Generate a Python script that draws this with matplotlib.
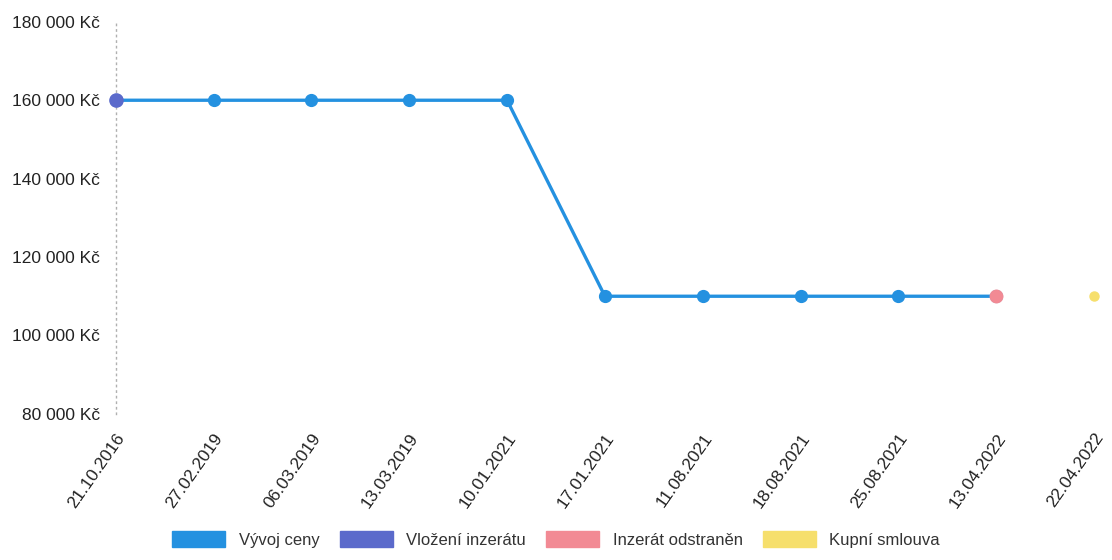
import matplotlib.pyplot as plt
from matplotlib.patches import Patch
from matplotlib.ticker import FuncFormatter

plt.rcParams['font.family'] = ['Liberation Sans', 'DejaVu Sans']

dates = ['21.10.2016', '27.02.2019', '06.03.2019', '13.03.2019', '10.01.2021',
         '17.01.2021', '11.08.2021', '18.08.2021', '25.08.2021', '13.04.2022',
         '22.04.2022']
prices = [160000, 160000, 160000, 160000, 160000,
          110000, 110000, 110000, 110000, 110000]

listed_idx, listed_price = 0, 160000
removed_idx, removed_price = 9, 110000
contract_idx, contract_price = 10, 110000

legend_labels = ['Vývoj ceny', 'Vložení inzerátu', 'Inzerát odstraněn', 'Kupní smlouva']
c_price = '#2491e0'
c_listed = '#5b6acb'
c_removed = '#f28a94'
c_contract = '#f6df6c'

fig = plt.figure(figsize=(11.12, 5.6), dpi=100)
ax = fig.add_axes([0.104, 0.261, 0.880, 0.700])

x = list(range(len(prices)))
ax.plot(x, prices, color=c_price, lw=2.4, marker='o', ms=8.5, zorder=2, clip_on=False)
ax.plot(listed_idx, listed_price, 'o', color=c_listed, ms=9.5, zorder=3, clip_on=False)
ax.plot(removed_idx, removed_price, 'o', color=c_removed, ms=9, zorder=3, clip_on=False)
ax.plot(contract_idx, contract_price, 'o', color=c_contract, ms=6.5, zorder=3, clip_on=False)

ax.set_xlim(0, len(dates) - 1)
ax.set_ylim(80000, 180000)
ax.set_yticks(range(80000, 180001, 20000))
ax.yaxis.set_major_formatter(FuncFormatter(lambda v, p: f'{int(v):,} Kč'.replace(',', ' ')))
ax.set_xticks(range(len(dates)))
ax.set_xticklabels(dates, rotation=55, ha='right', rotation_mode='anchor')

for s in ['top', 'right', 'bottom']:
    ax.spines[s].set_visible(False)
ax.spines['left'].set_color('#b0b0b0')
ax.spines['left'].set_linestyle((0, (1, 3)))
ax.spines['left'].set_linewidth(1)
ax.tick_params(length=0, labelsize=12.5, colors='#222222')
ax.tick_params(axis='y', pad=11)
ax.tick_params(axis='x', pad=12)

handles = [Patch(color=c) for c in [c_price, c_listed, c_removed, c_contract]]
fig.legend(handles, legend_labels, loc='lower center', bbox_to_anchor=(0.5, -0.005),
           ncol=4, frameon=False, fontsize=12, handlelength=3.2, handleheight=1.1,
           columnspacing=1.2, handletextpad=0.8, labelcolor='#333333')

fig.savefig('out.png', dpi=100)
